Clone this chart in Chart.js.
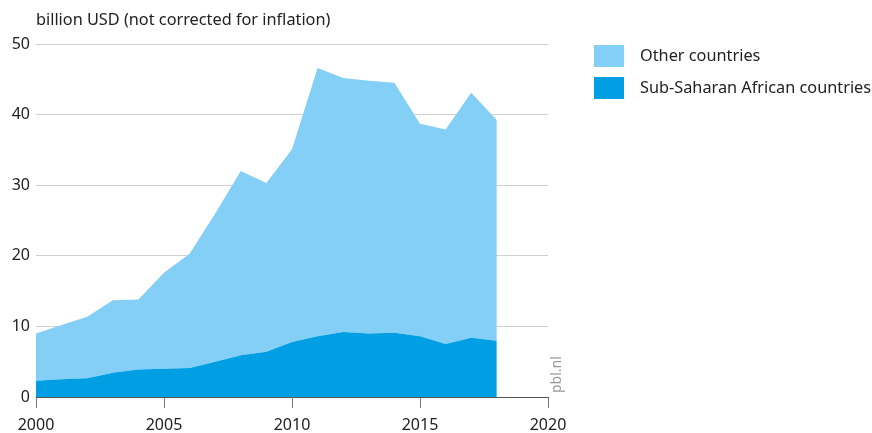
<!DOCTYPE html>
<html>
<head>
<meta charset="utf-8">
<script src="https://cdn.jsdelivr.net/npm/chart.js@4"></script>
<style>
  html, body { margin: 0; padding: 0; background: #fff; }
  #wrap { width: 872px; height: 433px; position: relative; }
</style>
</head>
<body>
<div id="wrap"><canvas id="chart" width="872" height="433"></canvas></div>
<script>
// jaren en waarden (miljard USD)
const years = [2000, 2001, 2002, 2003, 2004, 2005, 2006, 2007, 2008, 2009,
               2010, 2011, 2012, 2013, 2014, 2015, 2016, 2017, 2018];
const subSaharan = [2.3, 2.5, 2.65, 3.45, 3.9, 4.0, 4.1, 5.0, 5.9, 6.4,
                    7.8, 8.6, 9.2, 9.0, 9.1, 8.6, 7.5, 8.4, 7.95];
const totals = [9.0, 10.2, 11.35, 13.7, 13.8, 17.6, 20.3, 26.0, 32.0, 30.3,
                35.1, 46.6, 45.2, 44.8, 44.5, 38.7, 37.9, 43.1, 39.25];
const otherCountries = totals.map((t, i) => +(t - subSaharan[i]).toFixed(2));
const yTicks = [0, 10, 20, 30, 40, 50];
const xTicks = [2000, 2005, 2010, 2015, 2020];

const unitLabel = 'billion USD (not corrected for inflation)';
const legendItems = [
  { label: 'Other countries', color: '#84cff5' },
  { label: 'Sub-Saharan African countries', color: '#009fe3' }
];

const FONT = '"Noto Sans", "Open Sans", sans-serif';

// titel, legenda en bronvermelding
const extras = {
  id: 'extras',
  afterDraw(chart) {
    const ctx = chart.ctx;
    ctx.save();
    ctx.fillStyle = '#222';
    ctx.font = '16.3px ' + FONT;
    ctx.textBaseline = 'middle';
    ctx.textAlign = 'left';
    ctx.fillText(unitLabel, 36, 20);

    legendItems.forEach((item, i) => {
      const y = 45 + i * 32;
      ctx.fillStyle = item.color;
      ctx.fillRect(594, y, 30, 22);
      ctx.fillStyle = '#222';
      ctx.font = '16.3px ' + FONT;
      ctx.fillText(item.label, 640, y + 11);
    });

    ctx.translate(557, 393);
    ctx.rotate(-Math.PI / 2);
    ctx.fillStyle = '#999';
    ctx.font = '14px ' + FONT;
    ctx.textAlign = 'left';
    ctx.fillText('pbl.nl', 0, 0);
    ctx.restore();
  }
};

new Chart(document.querySelector('#chart'), {
  type: 'line',
  data: {
    datasets: [
      {
        label: legendItems[1].label,
        data: years.map((x, i) => ({ x: x, y: subSaharan[i] })),
        backgroundColor: legendItems[1].color,
        borderWidth: 0,
        pointRadius: 0,
        fill: 'origin',
        tension: 0
      },
      {
        label: legendItems[0].label,
        data: years.map((x, i) => ({ x: x, y: otherCountries[i] })),
        backgroundColor: legendItems[0].color,
        borderWidth: 0,
        pointRadius: 0,
        fill: '-1',
        tension: 0
      }
    ]
  },
  options: {
    responsive: false,
    animation: false,
    layout: { padding: { top: 44, right: 324, bottom: 0, left: 0 } },
    plugins: {
      legend: { display: false },
      tooltip: { enabled: false }
    },
    scales: {
      x: {
        type: 'linear',
        min: 2000,
        max: 2020,
        afterBuildTicks: (axis) => { axis.ticks = xTicks.map(v => ({ value: v })); },
        afterFit: (axis) => { axis.height = 36; },
        grid: {
          drawOnChartArea: false,
          drawTicks: true,
          tickLength: 11,
          color: '#777'
        },
        border: { display: true, color: '#555', width: 1 },
        ticks: {
          color: '#222',
          font: { family: FONT, size: 16 },
          padding: 8,
          maxRotation: 0,
          callback: (v) => String(v)
        }
      },
      y: {
        stacked: true,
        min: 0,
        max: 50,
        afterBuildTicks: (axis) => { axis.ticks = yTicks.map(v => ({ value: v })); },
        afterFit: (axis) => { axis.width = 36; },
        grid: {
          color: (c) => c.tick && c.tick.value === 0 ? 'rgba(0,0,0,0)' : '#d0d0d0',
          drawTicks: false,
          lineWidth: 1
        },
        border: { display: false },
        ticks: {
          color: '#222',
          font: { family: FONT, size: 16 },
          padding: 6
        }
      }
    }
  },
  plugins: [extras]
});
</script>
</body>
</html>
